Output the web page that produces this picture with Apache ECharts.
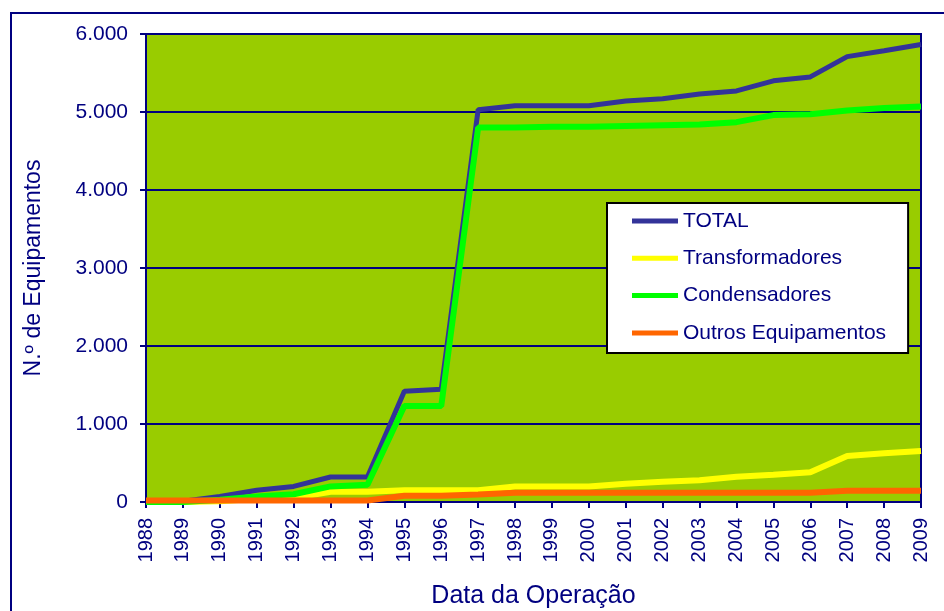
<!DOCTYPE html>
<html>
<head>
<meta charset="utf-8">
<script src="https://cdn.jsdelivr.net/npm/echarts@6/dist/echarts.min.js"></script>
<style>
  html, body { margin: 0; padding: 0; background: #fff; }
  #chart { width: 944px; height: 611px; }
</style>
</head>
<body>
<div id="chart"></div>
<script>
const years = ['1988', '1989', '1990', '1991', '1992', '1993', '1994', '1995', '1996', '1997', '1998',
  '1999', '2000', '2001', '2002', '2003', '2004', '2005', '2006', '2007', '2008', '2009']
const totalData = [0, 10, 70, 150, 200, 320, 320, 1420, 1445, 5030, 5080,
  5080, 5080, 5140, 5170, 5230, 5270, 5400, 5450, 5710, 5785, 5865]
const transformadoresData = [0, 0, 10, 40, 50, 130, 130, 150, 150, 150, 200,
  200, 200, 235, 260, 280, 325, 350, 380, 590, 625, 655]
const condensadoresData = [0, 0, 30, 70, 100, 200, 220, 1230, 1230, 4800, 4800,
  4810, 4810, 4820, 4830, 4840, 4870, 4960, 4970, 5020, 5050, 5070]
const outrosData = [20, 20, 20, 20, 20, 20, 20, 80, 80, 95, 120,
  120, 120, 120, 120, 120, 120, 120, 120, 145, 145, 145]
const yTicks = { min: 0, max: 6000, interval: 1000 }

const navy = '#000080'
const font = 'Liberation Sans, Arial, sans-serif'

function fmt(v) {
  return String(v).replace(/\B(?=(\d{3})+(?!\d))/g, '.')
}

const chart = echarts.init(document.getElementById('chart'))
chart.setOption({
  animation: false,
  backgroundColor: '#fff',
  textStyle: { fontFamily: font },
  graphic: [
    {
      type: 'rect',
      shape: { x: 11, y: 13, width: 1000, height: 1000 },
      style: { fill: 'none', stroke: navy, lineWidth: 2 },
      silent: true
    }
  ],
  grid: {
    left: 146,
    right: 23,
    top: 34,
    bottom: 109,
    outerBoundsMode: 'none',
    show: true,
    backgroundColor: '#99CC00',
    borderColor: navy,
    borderWidth: 2
  },
  legend: {
    orient: 'vertical',
    left: 607,
    top: 203,
    padding: [6, 22, 8, 25],
    itemGap: 13.3,
    itemWidth: 46,
    itemHeight: 5,
    itemTextGap: 8,
    icon: 'rect',
    backgroundColor: '#fff',
    borderColor: '#000',
    borderWidth: 2,
    textStyle: { color: navy, fontSize: 21, lineHeight: 24, fontFamily: font },
    data: ['TOTAL', 'Transformadores', 'Condensadores', 'Outros Equipamentos']
  },
  xAxis: {
    type: 'category',
    data: years,
    boundaryGap: false,
    name: 'Data da Operação',
    nameLocation: 'middle',
    nameGap: 82,
    nameTextStyle: { color: navy, fontSize: 25, fontFamily: font },
    axisLine: { lineStyle: { color: navy, width: 2 } },
    axisTick: { show: true, length: 6, lineStyle: { color: navy, width: 2 } },
    axisLabel: { color: navy, fontSize: 20, rotate: 90, margin: 16, fontFamily: font, interval: 0 },
    splitLine: { show: false }
  },
  yAxis: {
    type: 'value',
    min: yTicks.min,
    max: yTicks.max,
    interval: yTicks.interval,
    name: 'N.º de Equipamentos',
    nameLocation: 'middle',
    nameGap: 101,
    nameTextStyle: { color: navy, fontSize: 23, fontFamily: font },
    axisLine: { show: true, lineStyle: { color: navy, width: 2 } },
    axisTick: { show: true, length: 6, lineStyle: { color: navy, width: 2 } },
    axisLabel: { color: navy, fontSize: 21, margin: 18, fontFamily: font, formatter: fmt },
    splitLine: { lineStyle: { color: navy, width: 2 } }
  },
  series: [
    {
      name: 'TOTAL',
      type: 'line',
      data: totalData,
      symbol: 'none',
      itemStyle: { color: '#333399' },
      lineStyle: { color: '#333399', width: 5 }
    },
    {
      name: 'Transformadores',
      type: 'line',
      data: transformadoresData,
      symbol: 'none',
      itemStyle: { color: '#FFFF00' },
      lineStyle: { color: '#FFFF00', width: 6 }
    },
    {
      name: 'Condensadores',
      type: 'line',
      data: condensadoresData,
      symbol: 'none',
      itemStyle: { color: '#00FF00' },
      lineStyle: { color: '#00FF00', width: 6 }
    },
    {
      name: 'Outros Equipamentos',
      type: 'line',
      data: outrosData,
      symbol: 'none',
      itemStyle: { color: '#FF6600' },
      lineStyle: { color: '#FF6600', width: 6 }
    }
  ]
})
</script>
</body>
</html>
